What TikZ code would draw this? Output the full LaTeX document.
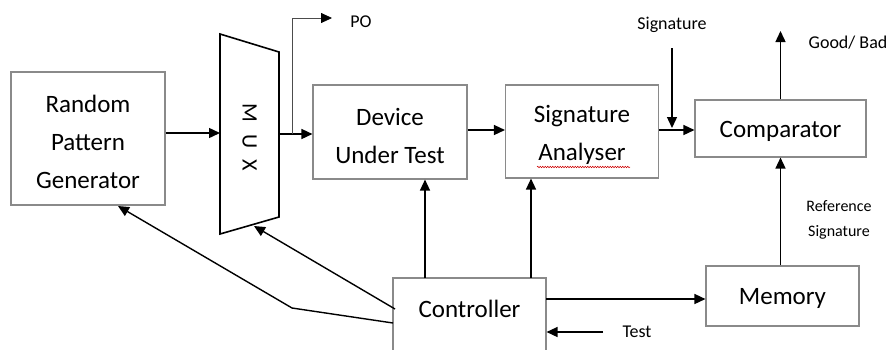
\documentclass[tikz,border=0pt]{standalone}
\usepackage{fontspec}
\setmainfont{Carlito}
\usetikzlibrary{arrows.meta,decorations.pathmorphing}
\definecolor{boxgray}{HTML}{8A8A8A}
\begin{document}
\begin{tikzpicture}[x=1pt,y=-1pt,
  box/.style={draw=boxgray, line width=1.1pt, inner sep=0pt},
  boxtext/.style={inner sep=0pt, align=center, font=\fontsize{25}{38}\selectfont},
  arr/.style={-{Triangle[length=11pt,width=10pt]}, line width=1.4pt},
  thinarr/.style={draw=black!70, line width=0.8pt, -{Triangle[length=11pt,width=10pt,color=black]}},
  lbl/.style={font=\fontsize{18}{22}\selectfont, inner sep=0pt},
  smalllbl/.style={font=\fontsize{16}{25}\selectfont, inner sep=0pt, align=center}]
\useasboundingbox (0,0) rectangle (891,349);

% blocks
\node[box, minimum width=154pt, minimum height=133pt] (rpg) at (88,138.5) {};
\node[box, minimum width=154pt, minimum height=94pt] (dut) at (390,132) {};
\node[box, minimum width=153pt, minimum height=93pt] (sa) at (582,131.5) {};
\node[box, minimum width=171pt, minimum height=57pt] (cmp) at (780.5,128.5) {};
\node[box, minimum width=153pt, minimum height=60pt] (mem) at (782.5,296) {};
\node[box, minimum width=153pt, minimum height=82pt] (ctl) at (469.5,319) {};

% block captions
\node[boxtext] (rpgtext) at ([yshift=-3pt]rpg.center) {Random\\Pattern\\Generator};
\node[boxtext] (duttext) at ([yshift=-3.5pt]dut.center) {Device\\Under Test};
\node[boxtext] (satext) at ([yshift=-3.5pt]sa.center) {Signature\\Analyser};
\node[boxtext] (cmptext) at ([yshift=-3pt]cmp.center) {Comparator};
\node[boxtext] (memtext) at ([yshift=-2pt]mem.center) {Memory};
\node[boxtext] (ctltext) at (469.5,309) {Controller};

% multiplexer
\draw[line width=1.6pt] (220,34) -- (279,52) -- (279,217) -- (220,234) -- cycle;
\node[rotate=-90, font=\fontsize{22}{22}\selectfont, inner sep=0pt] (muxlabel) at (249.5,137)
  {M\hspace{12pt}U\hspace{11pt}X};
\coordinate (muxin) at (220,133);
\coordinate (muxout) at (279,134);
\coordinate (muxbot) at (254,226);

% spell-check squiggle under "Analyser"
\draw[red!80!black, line width=0.5pt, decorate,
      decoration={snake, amplitude=0.8pt, segment length=2.5pt}] (537,167) -- (630,167);

% data path
\draw[arr] (rpg.east |- muxin) -- (muxin);
\draw[arr] (muxout) -- (muxout -| dut.west);
\coordinate (pobr) at (292,134);
\coordinate (pocorner) at (292,18);
\coordinate (poend) at (332,18);
\draw[thinarr] (pobr) -- (pocorner) -- (poend);
\node[lbl] (po) at (361,22) {PO};
\draw[arr] ([yshift=2pt]dut.east) -- ([yshift=2pt]dut.east -| sa.west);
\draw[arr] ([yshift=1.5pt]sa.east) -- ([yshift=1.5pt]sa.east -| cmp.west);

% signature input
\node[lbl] (sig) at (672,25) {Signature};
\coordinate (sigtop) at (672,48);
\coordinate (sigend) at (672,128);
\draw[arr] (sigtop) -- (sigend);

% comparator output
\coordinate (gb) at (780.5,31);
\draw[arr] (cmp.north) -- (gb);
\node[lbl] (gblbl) at (848,43) {Good/ Bad};

% reference signature from memory
\draw[arr] (mem.north -| cmp.south) -- (cmp.south);
\node[smalllbl] (reflbl) at (839,220) {Reference\\Signature};

% controller outputs
\coordinate (c1) at (425,278);
\coordinate (c2) at (531,278);
\draw[arr] (c1) -- (c1 |- dut.south);
\draw[arr] (c2) -- (c2 |- sa.south);
\coordinate (c3) at (546,299);
\draw[arr] (c3) -- (c3 -| mem.west);
\coordinate (c4) at (395,309);
\draw[arr] (c4) -- (muxbot);
\coordinate (c5) at (393,323);
\coordinate (c6) at (292,308);
\coordinate (rpgin) at (118,206);
\draw[arr] (c5) -- (c6) -- (rpgin);

% test input
\coordinate (testst) at (603,332);
\draw[arr] (testst) -- (testst -| ctl.east);
\node[lbl] (testlbl) at (637,332) {Test};
\end{tikzpicture}
\end{document}
